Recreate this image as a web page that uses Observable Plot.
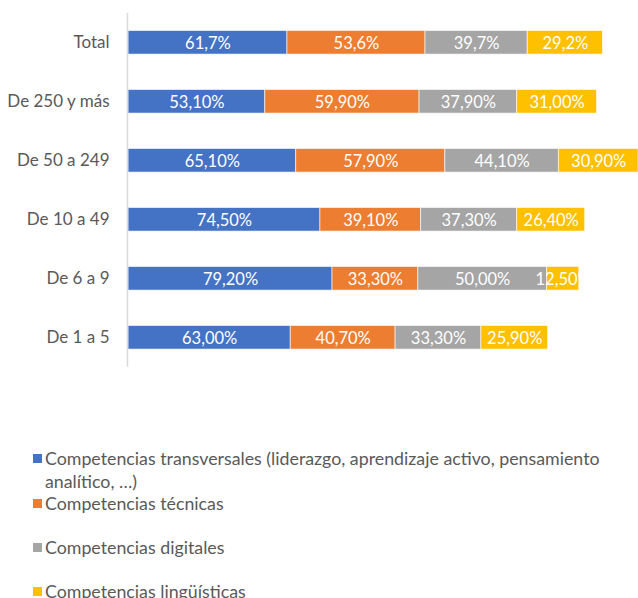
<!DOCTYPE html>
<html>
<head>
<meta charset="utf-8">
<script src="https://cdn.jsdelivr.net/npm/d3@7"></script>
<script src="https://cdn.jsdelivr.net/npm/@observablehq/plot@0.6"></script>
<style>
  html, body { margin: 0; padding: 0; background: #fff; }
  #wrap { position: relative; width: 638px; height: 598px; overflow: hidden; font-family: Lato, "Open Sans", sans-serif; }
  #legend { position: absolute; left: 0; top: 0; width: 638px; height: 598px; pointer-events: none; }
  .item { position: absolute; left: 33px; display: flex; align-items: flex-start; color: #595959; font-size: 17.8px; line-height: 23px; }
  .sw { width: 9px; height: 9px; margin-top: 7px; margin-right: 3px; flex: none; }
  .lab { width: 575px; }
</style>
</head>
<body>
<div id="wrap"><div id="chart"></div><div id="legend"></div></div>
<script>
const categories = ["Total", "De 250 y más", "De 50 a 249", "De 10 a 49", "De 6 a 9", "De 1 a 5"];
const series = [
  "Competencias transversales (liderazgo, aprendizaje activo, pensamiento analítico, …)",
  "Competencias técnicas",
  "Competencias digitales",
  "Competencias lingüísticas"
];
const transversales = [61.7, 53.1, 65.1, 74.5, 79.2, 63.0];
const tecnicas      = [53.6, 59.9, 57.9, 39.1, 33.3, 40.7];
const digitales     = [39.7, 37.9, 44.1, 37.3, 50.0, 33.3];
const linguisticas  = [29.2, 31.0, 30.9, 26.4, 12.5, 25.9];
const decimals      = [1, 2, 2, 2, 2, 2];
const colors = ["#4472C4", "#ED7D31", "#A5A5A5", "#FFC000"];

const seriesValues = [transversales, tecnicas, digitales, linguisticas];
const data = [];
categories.forEach((c, i) => {
  series.forEach((s, j) => {
    data.push({cat: c, series: s, value: seriesValues[j][i], dec: decimals[i]});
  });
});
const fmt = d => d.value.toFixed(d.dec).replace(".", ",") + "%";

const chart = Plot.plot({
  width: 638,
  height: 400,
  marginLeft: 128,
  marginRight: 0,
  marginTop: 12.8,
  marginBottom: 33.2,
  style: {fontFamily: "Lato, 'Open Sans', sans-serif", background: "white", overflow: "hidden"},
  x: {domain: [0, 198], axis: null},
  y: {domain: categories, paddingInner: 0.6, paddingOuter: 0.3, round: false, label: null},
  color: {domain: series, range: colors},
  marks: [
    Plot.barX(data, Plot.stackX({x: "value", y: "cat", z: "series", fill: "series", stroke: "white", strokeOpacity: 0.6, strokeWidth: 1})),
    Plot.text(data, Plot.stackX({x: "value", y: "cat", z: "series", text: fmt, fill: "white", fontSize: 16.5, dy: 1})),
    Plot.ruleX([0], {stroke: "#d9d9d9", strokeWidth: 1.5, dx: -1}),
    Plot.axisY({tickSize: 0, tickPadding: 19, fontSize: 17, fill: "#595959", label: null})
  ]
});
document.getElementById("chart").appendChild(chart);

const legend = document.getElementById("legend");
const tops = [446.5, 491.5, 535.5, 579.5];
series.forEach((s, j) => {
  const it = document.createElement("div");
  it.className = "item";
  it.style.top = tops[j] + "px";
  const sw = document.createElement("div");
  sw.className = "sw";
  sw.style.background = colors[j];
  const lab = document.createElement("div");
  lab.className = "lab";
  lab.textContent = s;
  it.appendChild(sw);
  it.appendChild(lab);
  legend.appendChild(it);
});
</script>
</body>
</html>
